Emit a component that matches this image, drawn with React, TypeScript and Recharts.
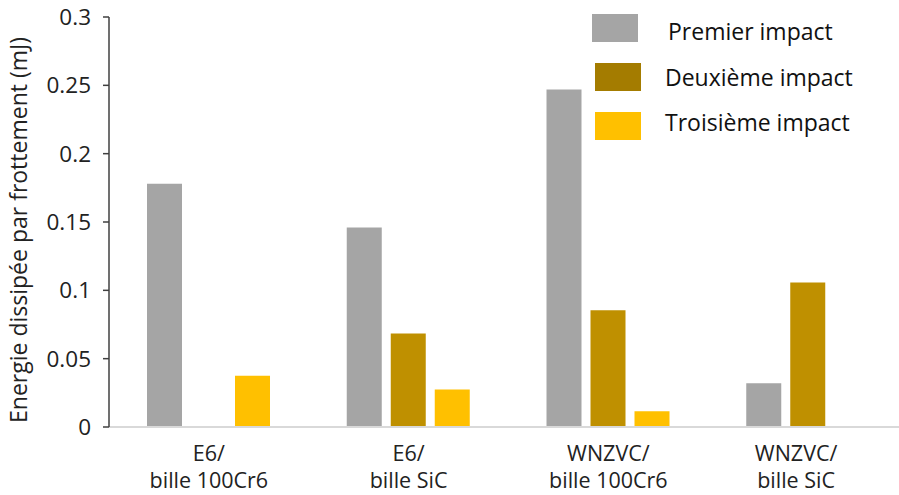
import { Bar, BarChart, XAxis, YAxis } from 'recharts';

const categories = ['E6/|bille 100Cr6', 'E6/|bille SiC', 'WNZVC/|bille 100Cr6', 'WNZVC/|bille SiC'];
const premierImpact = [0.178, 0.146, 0.247, 0.032];
const deuxiemeImpact = [0, 0.0685, 0.0855, 0.1058];
const troisiemeImpact = [0.0375, 0.0275, 0.0115, 0];
const yTicks = [0, 0.05, 0.1, 0.15, 0.2, 0.25, 0.3];

const FONT = '"Open Sans", sans-serif';

const series = [
  { key: 'premier', name: 'Premier impact', fill: '#A5A5A5', swatch: '#A5A5A5' },
  { key: 'deuxieme', name: 'Deuxième impact', fill: '#BF9000', swatch: '#A47C00' },
  { key: 'troisieme', name: 'Troisième impact', fill: '#FFC000', swatch: '#FFC000' },
];

const data = categories.map((cat, i) => ({
  cat,
  premier: premierImpact[i],
  deuxieme: deuxiemeImpact[i],
  troisieme: troisiemeImpact[i],
}));

function CategoryTick({ x, y, payload, index }: any) {
  const [line1, line2] = String(payload.value).split('|');
  // last label is pulled left a little, as in the original
  const cx = index === categories.length - 1 ? x - 12 : x;
  return (
    <text x={cx} y={y} textAnchor="middle" fontFamily={FONT} fontSize={21.5} fill="#222">
      <tspan x={cx} dy={26}>{line1}</tspan>
      <tspan x={cx} dy={27}>{line2}</tspan>
    </text>
  );
}

function LegendBox() {
  return (
    <div style={{ position: 'absolute', top: 0, left: 0, fontFamily: FONT, fontSize: 23, color: '#111' }}>
      {series.map((s, i) => (
        <div key={s.key}>
          <div
            style={{
              position: 'absolute',
              left: i === 0 ? 592 : 595,
              top: 14 + i * 49,
              width: 46,
              height: 28,
              background: s.swatch,
            }}
          />
          <span
            style={{
              position: 'absolute',
              left: i === 0 ? 668 : 665,
              top: 15 + i * 45.5,
              whiteSpace: 'nowrap',
              lineHeight: '32px',
            }}
          >
            {s.name}
          </span>
        </div>
      ))}
    </div>
  );
}

export default function App() {
  return (
    <div
      style={{
        position: 'absolute',
        top: 0,
        left: 0,
        width: 899,
        height: 495,
        overflow: 'hidden',
        background: '#fff',
      }}
    >
      <BarChart
        width={922}
        height={495}
        data={data}
        margin={{ top: 17, right: 14, bottom: 8, left: 0 }}
        barSize={35}
        barGap={9}
      >
        <XAxis
          dataKey="cat"
          height={60}
          tickLine={false}
          axisLine={{ stroke: '#D9D9D9', strokeWidth: 2 }}
          tick={<CategoryTick />}
          interval={0}
        />
        <YAxis
          width={109}
          domain={[0, 0.3]}
          ticks={yTicks}
          interval={0}
          axisLine={{ stroke: '#404040', strokeWidth: 1.5 }}
          tickLine={{ stroke: '#404040', strokeWidth: 1.5 }}
          tickSize={6}
          tickMargin={12}
          tick={{ fontFamily: FONT, fontSize: 22.5, fill: '#222' }}
          label={{
            value: 'Energie dissipée par frottement (mJ)',
            angle: -90,
            position: 'insideLeft',
            dx: 14,
            dy: 8,
            style: { fontFamily: FONT, fontSize: 23, fill: '#222', textAnchor: 'middle' },
          }}
        />
        {series.map((s) => (
          <Bar key={s.key} dataKey={s.key} name={s.name} fill={s.fill} isAnimationActive={false} />
        ))}
      </BarChart>
      <LegendBox />
    </div>
  );
}
